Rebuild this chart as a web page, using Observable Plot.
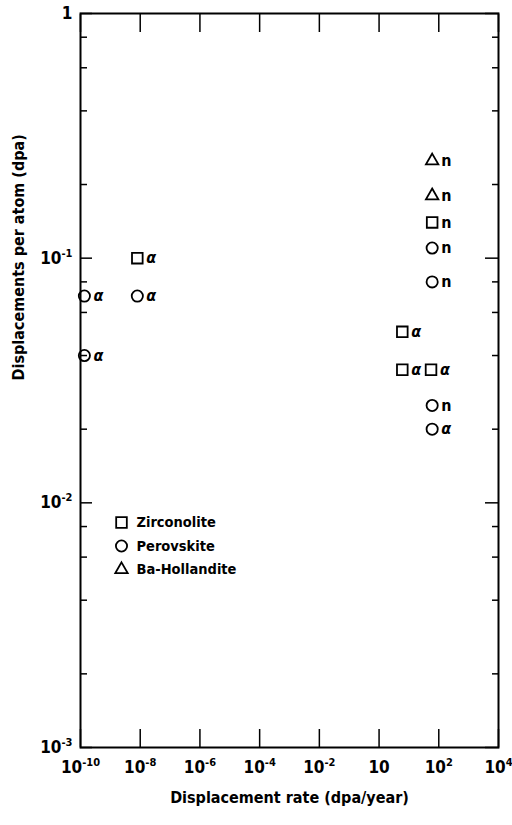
<!DOCTYPE html>
<html><head><meta charset="utf-8">
<script src="https://cdn.jsdelivr.net/npm/d3@7"></script>
<script src="https://cdn.jsdelivr.net/npm/@observablehq/plot@0.6"></script>
<style>body{margin:0;background:#fff}</style>
</head><body><div id="chart"></div>
<script>
// ---- data ----
const materials = ["Zirconolite", "Perovskite", "Ba-Hollandite"];
const materialSymbols = ["square", "circle", "triangle"];
const ptMaterial = ["Zirconolite","Perovskite","Perovskite","Perovskite","Zirconolite","Zirconolite","Zirconolite",
                    "Ba-Hollandite","Ba-Hollandite","Zirconolite","Perovskite","Perovskite","Perovskite","Perovskite"];
const ptRate = [8e-9, 8e-9, 1.35e-10, 1.35e-10, 6, 6, 55, 60, 60, 60, 60, 60, 60, 60];
const ptDpa  = [0.1, 0.07, 0.07, 0.04, 0.05, 0.035, 0.035, 0.25, 0.18, 0.14, 0.11, 0.08, 0.025, 0.02];
const ptSource = ["α","α","α","α","α","α","α","n","n","n","n","n","n","α"];
const xTickValues = [1e-10, 1e-8, 1e-6, 1e-4, 1e-2, 1, 1e2, 1e4];
const xTickLabels = ["10^-10","10^-8","10^-6","10^-4","10^-2","10","10^2","10^4"];
const yTickValues = [1e-3, 1e-2, 1e-1, 1];
const yTickLabels = ["10^-3","10^-2","10^-1","1"];
const yMinorMultipliers = [2, 4, 6, 8];
const yDecades = [1e-3, 1e-2, 1e-1];
const xTitle = "Displacement rate (dpa/year)";
const yTitle = "Displacements per atom (dpa)";

const points = ptRate.map((x, i) => ({rate: x, dpa: ptDpa[i], material: ptMaterial[i], source: ptSource[i]}));
const yMinor = yDecades.flatMap(d => yMinorMultipliers.map(m => d * m));
const sizes = {"Zirconolite": 6, "Perovskite": 5.6, "Ba-Hollandite": 4.6};

const font = "'Liberation Sans Narrow', 'DejaVu Sans Condensed', 'Liberation Sans', sans-serif";
const noLabel = () => "";
const tickOpts = {tickFormat: noLabel, strokeWidth: 1.5, label: null};

const marks = [
  Plot.axisY(yMinor, {anchor: "left", tickSize: -7, ...tickOpts}),
  Plot.axisY(yMinor, {anchor: "right", tickSize: -7, ...tickOpts}),
  Plot.axisY(yTickValues, {anchor: "left", tickSize: -12, ...tickOpts}),
  Plot.axisY(yTickValues, {anchor: "right", tickSize: -14, ...tickOpts}),
  Plot.axisX(xTickValues, {anchor: "bottom", tickSize: -18, ...tickOpts}),
  Plot.axisX(xTickValues, {anchor: "top", tickSize: -18, ...tickOpts}),
  Plot.axisY(yTickValues, {anchor: "left", tickSize: 0, tickPadding: 8,
    tickFormat: d => yTickLabels[yTickValues.indexOf(d)], fontSize: 17, fontWeight: "bold", label: null}),
  Plot.axisX(xTickValues, {anchor: "bottom", tickSize: 0, tickPadding: 13,
    tickFormat: d => xTickLabels[xTickValues.indexOf(d)], fontSize: 17, fontWeight: "bold", label: null}),
  Plot.frame({stroke: "black", strokeWidth: 2}),
  Plot.text([xTitle], {frameAnchor: "bottom", dy: 55, fontSize: 16, fontWeight: "bold"}),
  Plot.text([yTitle], {frameAnchor: "left", dx: -62, rotate: -90, fontSize: 16, fontWeight: "bold"}),
  ...materials.map(m => Plot.dot(points.filter(d => d.material === m),
    {x: "rate", y: "dpa", symbol: "material", r: sizes[m], stroke: "black", strokeWidth: 1.8, fill: "none"})),
  Plot.text(points.filter(d => d.source === "α"), {x: "rate", y: "dpa", text: "source", dx: 9, textAnchor: "start",
    fontSize: 16, fontStyle: "italic", fontWeight: "bold"}),
  Plot.text(points.filter(d => d.source === "n"), {x: "rate", y: "dpa", text: "source", dx: 9, textAnchor: "start",
    fontSize: 16, fontWeight: "bold"}),
  // legend
  ...materials.map((m, i) => Plot.dot([m], {frameAnchor: "top-left", dx: 41, dy: 509 + i * 23.5,
    symbol: d => d, r: sizes[m], stroke: "black", strokeWidth: 1.8, fill: "none"})),
  ...materials.map((m, i) => Plot.text([m], {frameAnchor: "top-left", dx: 56, dy: 509 + i * 23.5,
    textAnchor: "start", lineAnchor: "middle", fontSize: 14.5, fontWeight: "bold"}))
];

const chart = Plot.plot({
  width: 512, height: 825,
  marginLeft: 80, marginRight: 14, marginTop: 13, marginBottom: 78,
  style: {fontFamily: font, color: "black", background: "white"},
  x: {type: "log", domain: [1e-10, 1e4], axis: null},
  y: {type: "log", domain: [1e-3, 1], axis: null},
  symbol: {domain: materials, range: materialSymbols},
  marks
});

// superscripts for tick labels written as base^exp
const ns = "http://www.w3.org/2000/svg";
chart.querySelectorAll("text").forEach(t => {
  const tspans = t.querySelectorAll("tspan");
  const target = tspans.length ? tspans[0] : t;
  const s = target.textContent;
  if (!s.includes("^")) return;
  const [base, exp] = s.split("^");
  target.textContent = "";
  const b = document.createElementNS(ns, "tspan"); b.textContent = base;
  const e = document.createElementNS(ns, "tspan"); e.textContent = exp;
  e.setAttribute("font-size", "11"); e.setAttribute("dy", "-7");
  target.appendChild(b); target.appendChild(e);
});

document.getElementById("chart").appendChild(chart);
</script>
</body></html>
